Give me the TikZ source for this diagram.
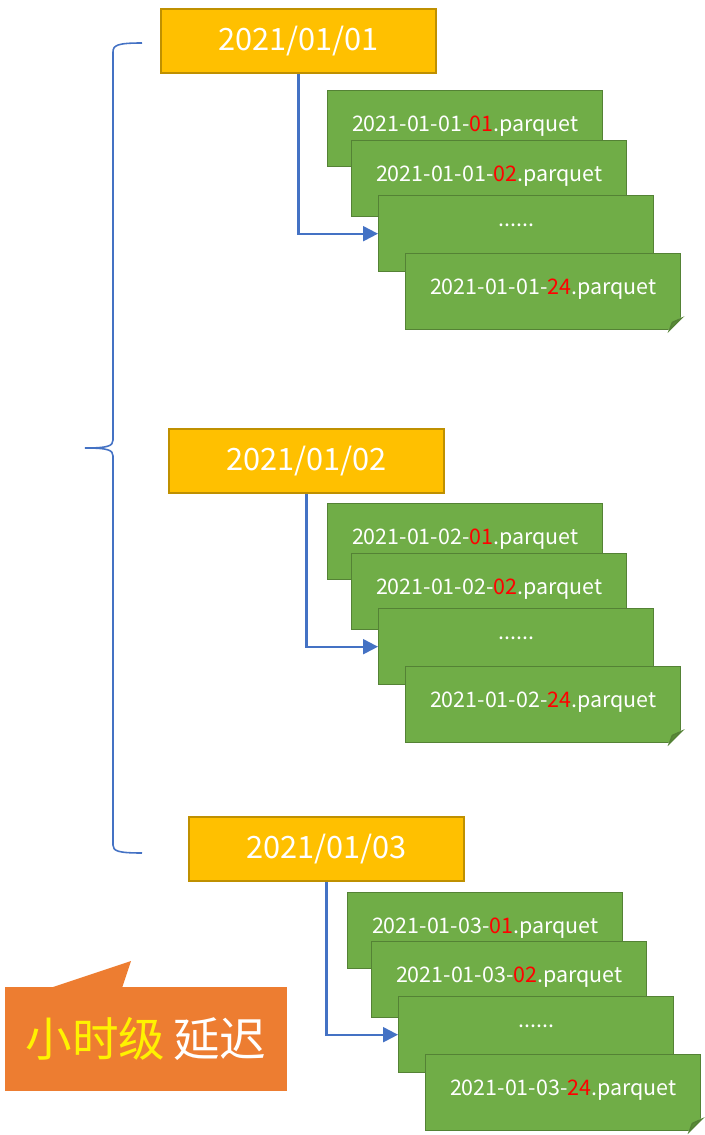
\documentclass[tikz,border=0pt]{standalone}
\usepackage{fontspec}
\setmainfont{Noto Sans CJK SC}
\usepackage{tikz}
\usetikzlibrary{arrows.meta, positioning, calc}
\definecolor{dayyellow}{RGB}{255, 192, 0}
\definecolor{dayedge}{RGB}{191, 144, 0}
\definecolor{filegreen}{RGB}{112, 173, 71}
\definecolor{fileedge}{RGB}{84, 130, 53}
\definecolor{foldgreen}{RGB}{90, 140, 56}
\definecolor{lineblue}{RGB}{68, 114, 196}
\definecolor{hourred}{RGB}{255, 0, 0}
\definecolor{calloutorange}{RGB}{237, 125, 49}
\tikzset{
    daybox/.style={rectangle, minimum width=5.5cm, minimum height=1.28cm,
                   draw=dayedge, fill=dayyellow, text=white,
                   font=\fontsize{17.5}{20}\selectfont, line width=1pt},
    filebox/.style={rectangle, minimum width=5.5cm, minimum height=1.52cm,
                    draw=fileedge, fill=filegreen, text=white, anchor=north west,
                    text height=0.34cm, text depth=0.22cm,
                    font=\fontsize{12.2}{14}\selectfont, line width=0.8pt},
    dotsbox/.style={filebox, text height=0.1cm, text depth=0.38cm},
    flowarr/.style={draw=lineblue, line width=1.2pt,
                    -{Triangle[length=0.3cm, width=0.3cm]}},
}
\newcommand{\hr}[1]{\textcolor{hourred}{#1}}

\begin{document}
\begin{tikzpicture}[x=0.02cm, y=-0.02cm]
    \useasboundingbox (0,0) rectangle (705,1135);

    % Brace
    \draw[lineblue, line width=0.9pt]
        (142,43) .. controls (118,43) and (113,45) .. (113,52)
        -- (113,440) .. controls (113,446) and (108,448) .. (85,448)
        .. controls (108,448) and (113,450) .. (113,456)
        -- (113,845) .. controls (113,851) and (118,853) .. (142,853);

    % Day 1
    \node[daybox] (day1) at (298.5,41) {2021/01/01};
    \node[filebox] (f11) at (327,90) {2021-01-01-\hr{01}.parquet};
    \node[filebox] (f12) at (351,140) {2021-01-01-\hr{02}.parquet};
    \node[dotsbox] (f13) at (378,195) {......};
    \node[filebox] (f14) at (405,253) {2021-01-01-\hr{24}.parquet};
    \draw[flowarr] (day1.south) |- (f13.west);

    % Day 2
    \node[daybox] (day2) at (306.5,461) {2021/01/02};
    \node[filebox] (f21) at (327,503) {2021-01-02-\hr{01}.parquet};
    \node[filebox] (f22) at (351,553) {2021-01-02-\hr{02}.parquet};
    \node[dotsbox] (f23) at (378,608) {......};
    \node[filebox] (f24) at (405,666) {2021-01-02-\hr{24}.parquet};
    \draw[flowarr] (day2.south) |- (f23.west);

    % Day 3
    \node[daybox] (day3) at (326.5,849) {2021/01/03};
    \node[filebox] (f31) at (347,892) {2021-01-03-\hr{01}.parquet};
    \node[filebox] (f32) at (371,941) {2021-01-03-\hr{02}.parquet};
    \node[dotsbox] (f33) at (398,996) {......};
    \node[filebox] (f34) at (425,1054) {2021-01-03-\hr{24}.parquet};
    \draw[flowarr] (day3.south) |- (f33.west);

    % Folded corners
    \foreach \f in {f14, f24, f34} {
        \filldraw[white, line width=1.2pt]
            ([shift={(-13,1)}]\f.south east) -- ([shift={(1,1)}]\f.south east)
            -- ([shift={(1,-13)}]\f.south east) -- cycle;
        \filldraw[draw=fileedge, fill=foldgreen, line width=0.8pt]
            ([shift={(-12,0)}]\f.south east) -- ([shift={(0,-12)}]\f.south east)
            -- ([shift={(-9,-8)}]\f.south east) -- cycle;
    }

    % Callout
    \fill[calloutorange] (50,988) -- (131,961) -- (122,988) -- cycle;
    \node[rectangle, fill=calloutorange, minimum width=5.64cm,
          minimum height=2.08cm, font=\fontsize{26.5}{30}\selectfont]
        (delay) at (146,1039) {\textcolor{yellow}{小时级}\,\textcolor{white}{延迟}};
\end{tikzpicture}
\end{document}
